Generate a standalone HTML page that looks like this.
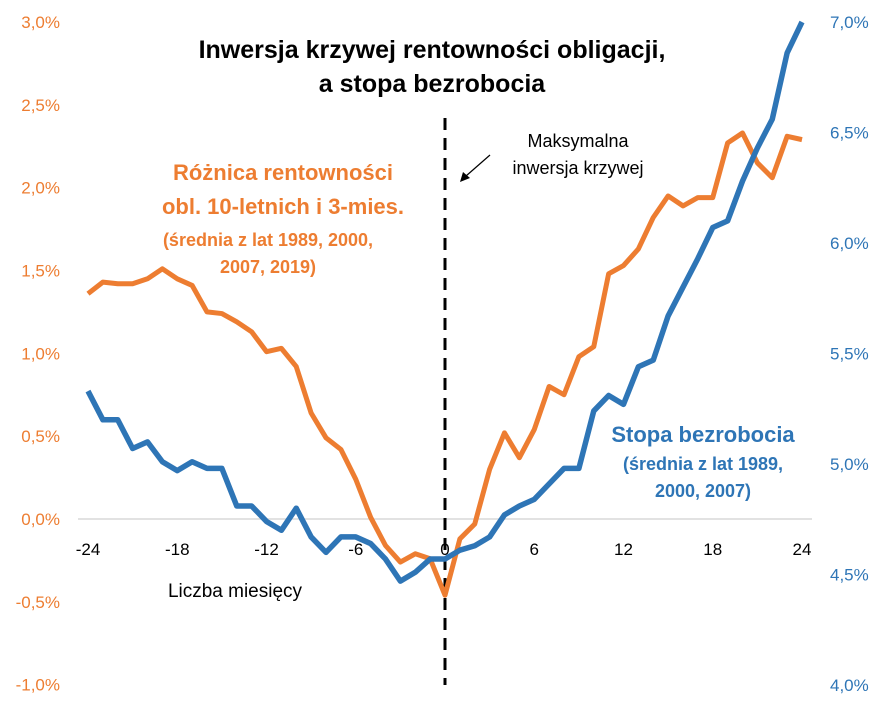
<!DOCTYPE html>
<html><head><meta charset="utf-8"><style>
html,body{margin:0;padding:0;background:#fff;}
svg{display:block;font-family:"Liberation Sans","DejaVu Sans",sans-serif;}
</style></head><body>
<svg id="c" width="886" height="708" xmlns="http://www.w3.org/2000/svg">
<g id="grid"></g>
<text x="432" y="58" text-anchor="middle" font-size="25" font-weight="bold" fill="#000">Inwersja krzywej rentowności obligacji,</text>
<text x="432" y="92" text-anchor="middle" font-size="25" font-weight="bold" fill="#000">a stopa bezrobocia</text>
<text x="283" y="180" text-anchor="middle" font-size="22" font-weight="bold" fill="#ED7D31">Różnica rentowności</text>
<text x="283" y="214" text-anchor="middle" font-size="22" font-weight="bold" fill="#ED7D31">obl. 10-letnich i 3-mies.</text>
<text x="268" y="246" text-anchor="middle" font-size="18" font-weight="bold" fill="#ED7D31">(średnia z lat 1989, 2000,</text>
<text x="268" y="273" text-anchor="middle" font-size="18" font-weight="bold" fill="#ED7D31">2007, 2019)</text>
<text x="703" y="442" text-anchor="middle" font-size="22" font-weight="bold" fill="#2E75B6">Stopa bezrobocia</text>
<text x="703" y="470" text-anchor="middle" font-size="18" font-weight="bold" fill="#2E75B6">(średnia z lat 1989,</text>
<text x="703" y="497" text-anchor="middle" font-size="18" font-weight="bold" fill="#2E75B6">2000, 2007)</text>
<text x="578" y="147" text-anchor="middle" font-size="18" fill="#000">Maksymalna</text>
<text x="578" y="174" text-anchor="middle" font-size="18" fill="#000">inwersja krzywej</text>
<line x1="490" y1="155" x2="466" y2="176" stroke="#000" stroke-width="1.2"/>
<polygon points="460,182 463,172 470,178" fill="#000"/>
<text x="235" y="597" text-anchor="middle" font-size="19" fill="#000">Liczba miesięcy</text>
<g id="series"></g>
</svg>
<script>
const months = [];
for (let m = -24; m <= 24; m++) months.push(m);
const spread = [1.36,1.43,1.42,1.42,1.45,1.51,1.45,1.41,1.25,1.24,1.19,1.13,1.01,1.03,0.92,0.64,0.49,0.42,0.24,0.01,-0.16,-0.26,-0.21,-0.24,-0.46,
 -0.12,-0.03,0.30,0.52,0.37,0.54,0.80,0.75,0.98,1.04,1.48,1.53,1.63,1.82,1.95,1.89,1.94,1.94,2.27,2.33,2.15,2.06,2.31,2.29];
const unemployment = [5.33,5.20,5.20,5.07,5.10,5.01,4.97,5.01,4.98,4.98,4.81,4.81,4.74,4.70,4.80,4.67,4.60,4.67,4.67,4.64,4.57,4.47,4.51,4.57,4.57,
 4.61,4.63,4.67,4.77,4.81,4.84,4.91,4.98,4.98,5.24,5.31,5.27,5.44,5.47,5.67,5.80,5.93,6.07,6.10,6.28,6.43,6.56,6.86,7.0];
const leftTicks = [-1.0,-0.5,0.0,0.5,1.0,1.5,2.0,2.5,3.0];
const rightTicks = [4.0,4.5,5.0,5.5,6.0,6.5,7.0];
const xTicks = [-24,-18,-12,-6,0,6,12,18,24];

const X = m => 88 + (m + 24) * (802 - 88) / 48;
const YL = v => 519 - v * (519 - 22) / 3;
const YR = v => 685 - (v - 4) * (685 - 22) / 3;
const NS = "http://www.w3.org/2000/svg";
const svg = document.getElementById('c');
const grid = document.getElementById('grid');
const ser = document.getElementById('series');
function mk(tag, attrs, parent) { const e = document.createElementNS(NS, tag); for (const k in attrs) e.setAttribute(k, attrs[k]); parent.appendChild(e); return e; }
function fmt(v){ return v.toFixed(1).replace('.', ',') + '%'; }

const base = mk('line', {x1:78, x2:812, y1:YL(0), y2:YL(0), stroke:'#d9d9d9', 'stroke-width':1.5}, grid);



leftTicks.forEach(v => {
  const t = mk('text', {x:60, y:YL(v)+6, 'text-anchor':'end', 'font-size':17, fill:'#ED7D31'}, grid);
  t.textContent = (v < 0 ? '-' : '') + fmt(Math.abs(v));
  
  
});
rightTicks.forEach(v => {
  const t = mk('text', {x:830, y:YR(v)+6, 'font-size':17, fill:'#2E75B6'}, grid);
  t.textContent = fmt(v);
  
  
});
xTicks.forEach(m => {
  const t = mk('text', {x:X(m), y:555, 'text-anchor':'middle', 'font-size':17, fill:'#000'}, grid);
  t.textContent = String(m);
  
  
});

const vline = mk('line', {x1:X(0), x2:X(0), y1:118, y2:685, stroke:'#000', 'stroke-width':3, 'stroke-dasharray':'12,8'}, ser);



const po = mk('polyline', {points: months.map((m,i)=>X(m)+','+YL(spread[i])).join(' '), fill:'none', stroke:'#ED7D31', 'stroke-width':5, 'stroke-linejoin':'round'}, ser);


const pb = mk('polyline', {points: months.map((m,i)=>X(m)+','+YR(unemployment[i])).join(' '), fill:'none', stroke:'#2E75B6', 'stroke-width':5.5, 'stroke-linejoin':'round'}, ser);


</script>
</body></html>
